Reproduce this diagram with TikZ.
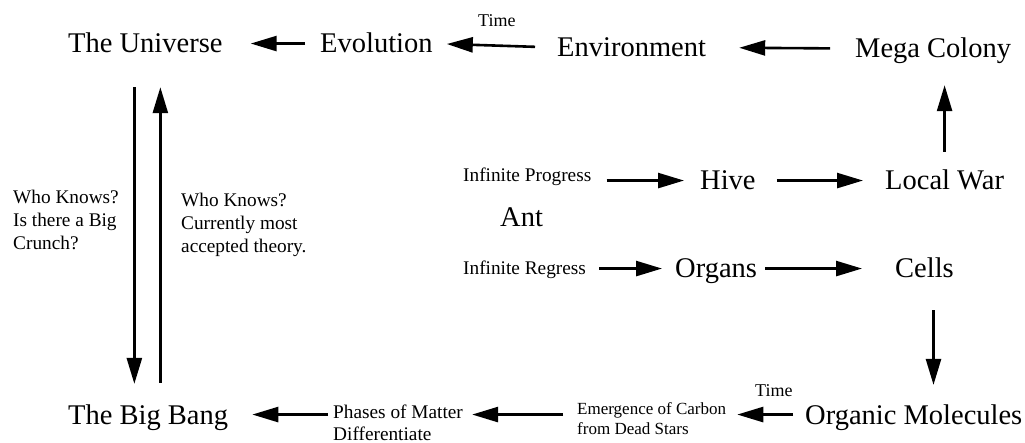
\documentclass[tikz,border=0pt]{standalone}
\usepackage{fontspec}
\setmainfont{Liberation Serif}
\usetikzlibrary{arrows.meta,calc}
\tikzset{
  big/.style={font=\fontsize{28.5}{34}\selectfont, inner sep=0pt, anchor=base west, text height=18.9pt, text depth=0pt},
  small/.style={font=\fontsize{19.3}{23}\selectfont, inner sep=0pt, anchor=base west, align=left},
  note/.style={font=\fontsize{17}{19.5}\selectfont, inner sep=0pt, anchor=base west, align=left},
  arr/.style={line width=2.6pt, -{Triangle[length=26pt,width=15pt]}}
}
\begin{document}
\begin{tikzpicture}[x=1pt,y=-1pt]
\useasboundingbox (0,0) rectangle (1025,443);
% top row
\node[big] (univ) at (68,53) {The Universe};
\node[big] (evo) at (320,53) {Evolution};
\node[big] (env) at (557,57) {Environment};
\node[big] (mega) at (855,58) {Mega Colony};
\node[note, font=\fontsize{18}{21}\selectfont] (time1) at (478,27) {Time};
% ant
\node[small] (prog) at (463,182) {Infinite Progress};
\node[big] (hive) at (700,190) {Hive};
\node[big] (war) at (885,190) {Local War};
\node[big] (ant) at (500,227) {Ant};
\node[small] (regr) at (463,275) {Infinite Regress};
\node[big] (organs) at (675,278) {Organs};
\node[big] (cells) at (895,278) {Cells};
% bottom row
\node[big] (bang) at (68,424) {The Big Bang};
\node[small, font=\fontsize{19.3}{22}\selectfont] (phases) at (333,440) {Phases of Matter\\Differentiate};
\node[note] (carbon) at (577,434) {Emergence of Carbon\\from Dead Stars};
\node[note, font=\fontsize{18}{21}\selectfont] (time2) at (755,396) {Time};
\node[big] (molec) at (805,424) {Organic Molecules};
% side notes
\node[small] (crunch) at (13,250) {Who Knows?\\Is there a Big\\Crunch?};
\node[small] (theory) at (181,253) {Who Knows?\\Currently most\\accepted theory.};
\coordinate (down) at ($(univ.south)+(-11,0)$);
\coordinate (up) at ($(univ.south)+(15,0)$);
\coordinate (drop) at ($(cells.south)+(9,0)$);

\draw[arr, shorten <=15pt, shorten >=28pt] (evo.west) -- (univ.east);
\draw[arr, shorten <=22pt, shorten >=14pt] (env.west) -- (evo.east);
\draw[arr, shorten <=25pt, shorten >=33pt] (mega.west) -- (env.east);
\draw[arr, shorten <=19pt, shorten >=27pt] (war.north) -- (war.north |- mega.south);
\draw[arr, shorten <=15pt, shorten >=16pt] (hive.west -| prog.east) -- (hive.west);
\draw[arr, shorten <=21pt, shorten >=22pt] (hive.east) -- (war.west);
\draw[arr, shorten <=13pt, shorten >=13pt] (organs.west -| regr.east) -- (organs.west);
\draw[arr, shorten <=8pt, shorten >=33pt] (organs.east) -- (cells.west);
\draw[arr, shorten <=32pt, shorten >=20pt] (drop) -- (drop |- molec.north);
\draw[arr, shorten <=12pt, shorten >=11pt] (molec.west) -- (molec.west -| carbon.east);
\draw[arr, shorten <=14pt, shorten >=9pt] (molec.west -| carbon.west) -- (molec.west -| phases.east);
\draw[arr, shorten <=5pt, shorten >=24pt] (bang.east -| phases.west) -- (bang.east);
\draw[arr, shorten <=34pt, shorten >=21pt] (down) -- (down |- bang.north);
\draw[arr, shorten <=22pt, shorten >=34pt] (up |- bang.north) -- (up);
\end{tikzpicture}
\end{document}
